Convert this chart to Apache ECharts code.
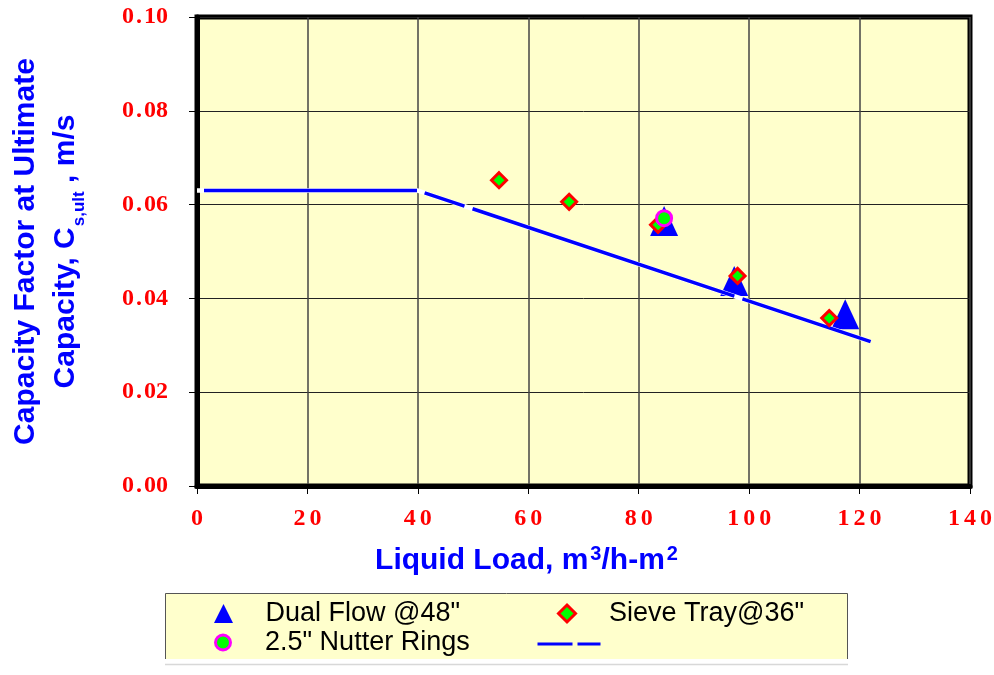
<!DOCTYPE html>
<html>
<head>
<meta charset="utf-8">
<script src="https://cdn.jsdelivr.net/npm/echarts@6/dist/echarts.min.js"></script>
<style>
  html, body { margin: 0; padding: 0; background: #ffffff; }
  #chart { width: 994px; height: 675px; }
</style>
</head>
<body>
<div id="chart"></div>
<script>
// Measured capacity factors vs. liquid load
const dualFlowX = [84.6, 97.3, 117.4];
const dualFlowY = [0.0565, 0.0437, 0.0366];

const sieveTrayX = [54.7, 67.4, 83.5, 97.9, 114.5];
const sieveTrayY = [0.0652, 0.0606, 0.0557, 0.0448, 0.0358];

const nutterX = [84.6];
const nutterY = [0.0571];

// Design line: flat, then falling with liquid load
const designX = [0, 40, 122];
const designY = [0.063, 0.063, 0.0308];

// Axis ranges and tick steps
const xRange = [0, 140];
const xStep = 20;
const yRange = [0, 0.10];
const yStep = 0.02;

const seriesNames = {
  dual: 'Dual Flow @48"',
  sieve: 'Sieve Tray@36"',
  nutter: '2.5" Nutter Rings',
  design: 'Design line'
};

const pairs = (xs, ys) => xs.map((x, i) => [x, ys[i]]);

const TRI_ICON = 'path://M0,-10 L10,10 L-10,10 Z';
const DIA_ICON = 'path://M0,-10 L10,0 L0,10 L-10,0 Z';

const SANS = '"Liberation Sans", Arial, Helvetica, sans-serif';
const SERIF = '"Liberation Serif", "Times New Roman", serif';

const tickLabel = {
  fontFamily: SERIF,
  fontWeight: 'bold',
  fontSize: 24,
  color: '#ff0000'
};

const titleFont = {
  color: '#0000ff',
  fontFamily: SANS,
  fontWeight: 'bold'
};

const legendText = {
  fontFamily: SANS,
  fontSize: 27,
  color: '#000000'
};

const chart = echarts.init(document.getElementById('chart'), null, { renderer: 'canvas' });

const option = {
  animation: false,
  backgroundColor: '#ffffff',
  grid: {
    left: 197, right: 24, top: 17, bottom: 189,
    containLabel: false,
    outerBoundsMode: 'none',
    show: true,
    backgroundColor: '#ffffcc',
    borderColor: '#000000',
    borderWidth: 5
  },
  xAxis: {
    type: 'value',
    min: xRange[0], max: xRange[1], interval: xStep,
    axisLine: { show: true, onZero: false, lineStyle: { color: '#000000', width: 5 } },
    axisTick: { show: true, length: 8, lineStyle: { color: '#000000', width: 1 } },
    axisLabel: Object.assign({}, tickLabel, {
      margin: 21,
      formatter: v => String(v).split('').join('\u2006')
    }),
    splitLine: { show: true, lineStyle: { color: '#444444', width: 1.5 } },
    name: 'Liquid Load, m{sup|3}/h-m{sup|2}',
    nameLocation: 'middle',
    nameGap: 58,
    nameTextStyle: Object.assign({}, titleFont, {
      fontSize: 30,
      lineHeight: 34,
      padding: [0, 114, 0, 0],
      rich: {
        sup: Object.assign({}, titleFont, {
          fontSize: 20, lineHeight: 16, verticalAlign: 'top', padding: [0, 0, 0, 2]
        })
      }
    })
  },
  yAxis: {
    type: 'value',
    min: yRange[0], max: yRange[1], interval: yStep,
    axisLine: { show: true, onZero: false, lineStyle: { color: '#000000', width: 5 } },
    axisTick: { show: true, length: 8, lineStyle: { color: '#000000', width: 1 } },
    axisLabel: Object.assign({}, tickLabel, {
      margin: 29,
      formatter: v => v.toFixed(2).replace('.', '\u200a.\u200a')
    }),
    splitLine: { show: true, lineStyle: { color: '#222222', width: 1 } },
    name: 'Capacity Factor at Ultimate\nCapacity, C{sub|s,ult} , m/s',
    nameLocation: 'middle',
    nameRotate: 90,
    nameGap: 111,
    nameTextStyle: Object.assign({}, titleFont, {
      fontSize: 30,
      lineHeight: 40,
      align: 'center',
      rich: {
        sub: Object.assign({}, titleFont, {
          fontSize: 17, lineHeight: 17, verticalAlign: 'top', padding: [25, 0, 0, 1]
        })
      }
    })
  },
  legend: [
    {
      data: [{ name: seriesNames.dual, icon: TRI_ICON }],
      left: 214, top: 600, padding: 0,
      itemWidth: 74, itemHeight: 19,
      selectedMode: false,
      itemStyle: { borderWidth: 0, opacity: 1 },
      textStyle: legendText
    },
    {
      data: [{ name: seriesNames.sieve, icon: DIA_ICON }],
      left: 557, top: 600, padding: 0,
      itemWidth: 74, itemHeight: 17,
      selectedMode: false,
      itemStyle: { borderWidth: 3, borderColor: '#ff0000', opacity: 1 },
      textStyle: legendText
    },
    {
      data: [{ name: seriesNames.nutter, icon: 'circle' }],
      left: 214, top: 629, padding: 0,
      itemWidth: 74, itemHeight: 15,
      selectedMode: false,
      itemStyle: { borderWidth: 3, borderColor: '#ff00ff', opacity: 1 },
      textStyle: legendText
    },
    {
      data: [seriesNames.design],
      left: 536, top: 635, padding: 0,
      itemWidth: 63, itemHeight: 18,
      selectedMode: false,
      formatter: () => '',
      itemStyle: { opacity: 0 },
      lineStyle: { color: '#0000ff', width: 3, type: [35, 5], cap: 'butt' },
      textStyle: legendText
    }
  ],
  graphic: [
    {
      type: 'rect', z: 0,
      shape: { x: 165, y: 593, width: 683, height: 66 },
      style: { fill: '#ffffcc' }
    },
    {
      type: 'polyline', z: 1,
      shape: { points: [[165.5, 659], [165.5, 593.5], [847.5, 593.5], [847.5, 659]] },
      style: { stroke: '#555555', lineWidth: 1, fill: null }
    },
    {
      type: 'line', z: 1,
      shape: { x1: 165, y1: 664.5, x2: 848, y2: 664.5 },
      style: { stroke: '#d8d8d8', lineWidth: 1.5 }
    }
  ],
  series: [
    {
      name: seriesNames.dual,
      type: 'scatter',
      data: pairs(dualFlowX, dualFlowY),
      symbol: 'triangle',
      symbolSize: [28, 30],
      itemStyle: { color: '#0000ff', opacity: 1 },
      z: 2
    },
    {
      // white backing so the dash gaps read as breaks
      name: 'design backing',
      type: 'line',
      data: pairs(designX, designY),
      showSymbol: false,
      symbol: 'none',
      silent: true,
      lineStyle: { color: '#ffffff', width: 4.5, cap: 'butt' },
      z: 3
    },
    {
      name: seriesNames.design,
      type: 'line',
      data: pairs(designX, designY),
      showSymbol: false,
      symbol: 'none',
      itemStyle: { color: '#0000ff' },
      lineStyle: {
        color: '#0000ff', width: 3.5, cap: 'butt',
        type: [0, 7, 213, 8, 42, 8.5, 276, 8.5, 400, 10]
      },
      z: 4
    },
    {
      name: seriesNames.sieve,
      type: 'scatter',
      data: pairs(sieveTrayX, sieveTrayY),
      symbol: 'diamond',
      symbolSize: 15,
      itemStyle: { color: '#00ff00', borderColor: '#ff0000', borderWidth: 3, opacity: 1 },
      z: 5
    },
    {
      name: seriesNames.nutter,
      type: 'scatter',
      data: pairs(nutterX, nutterY),
      symbol: 'circle',
      symbolSize: 15,
      itemStyle: { color: '#00ff00', borderColor: '#ff00ff', borderWidth: 3, opacity: 1 },
      z: 6
    }
  ]
};

chart.setOption(option);
</script>
</body>
</html>
